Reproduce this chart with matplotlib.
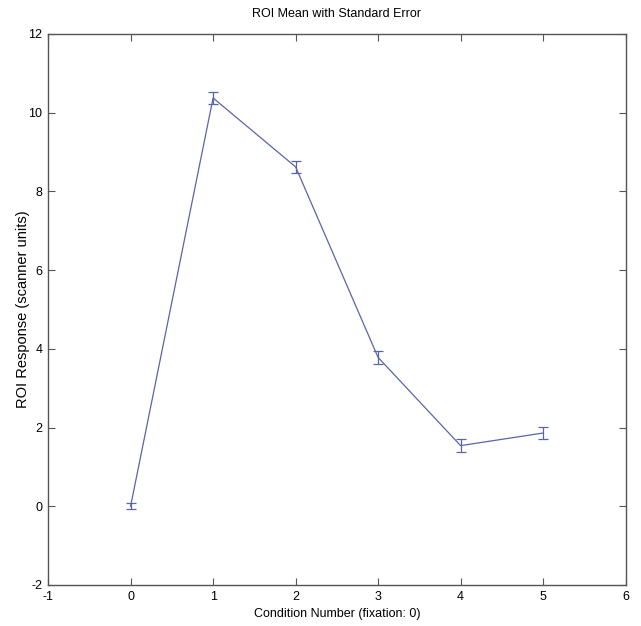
import matplotlib
matplotlib.use("Agg")
import matplotlib.pyplot as plt

conditions = [0, 1, 2, 3, 4, 5]
roi_mean = [0.0, 10.37, 8.62, 3.78, 1.54, 1.86]
roi_stderr = [0.08, 0.16, 0.16, 0.16, 0.16, 0.16]
xticks = [-1, 0, 1, 2, 3, 4, 5, 6]
yticks = [-2, 0, 2, 4, 6, 8, 10, 12]

plt.rcParams['font.family'] = ['Liberation Sans', 'DejaVu Sans']
plt.rcParams['axes.unicode_minus'] = False

fig = plt.figure(figsize=(6.41, 6.26), dpi=100)
ax = fig.add_axes([0.075, 0.0655, 0.901, 0.8805])

color = '#5a64aa'
ax.errorbar(conditions, roi_mean, yerr=roi_stderr, color=color, linewidth=0.9,
            elinewidth=0.9, capsize=3.6, capthick=0.9)

ax.set_xlim(-1, 6)
ax.set_ylim(-2, 12)
ax.set_xticks(xticks)
ax.set_yticks(yticks)
ax.tick_params(direction='in', top=True, right=True, length=5, width=0.8,
               color='#555555', labelsize=9, pad=4)
for s in ax.spines.values():
    s.set_color('#555555')
    s.set_linewidth(1.0)

ax.set_title('ROI Mean with Standard Error', fontsize=9, pad=12)
ax.set_xlabel('Condition Number (fixation: 0)', fontsize=9, labelpad=4)
ax.set_ylabel('ROI Response (scanner units)', fontsize=10.5, labelpad=-1)

fig.savefig('out.png', dpi=100)
